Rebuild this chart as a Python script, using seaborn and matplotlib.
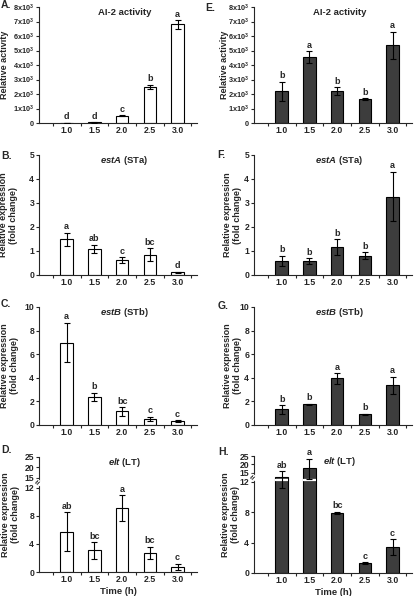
import numpy as np
import pandas as pd
import matplotlib
matplotlib.use('Agg')
import matplotlib.pyplot as plt
import seaborn as sns

# Time points (h)
times = ['1.0', '1.5', '2.0', '2.5', '3.0']

# Left column (open bars)
ai2_a = [15, 45, 500, 2500, 6800]
ai2_a_sd = [10, 15, 50, 150, 300]
ai2_a_let = ['d', 'd', 'c', 'b', 'a']
esta_b = [1.49, 1.10, 0.62, 0.85, 0.11]
esta_b_sd = [0.27, 0.17, 0.12, 0.27, 0.02]
esta_b_let = ['a', 'ab', 'c', 'bc', 'd']
estb_c = [6.98, 2.40, 1.15, 0.52, 0.34]
estb_c_sd = [1.68, 0.35, 0.35, 0.20, 0.08]
estb_c_let = ['a', 'b', 'bc', 'c', 'c']
elt_d = [5.75, 3.07, 9.06, 2.69, 0.71]
elt_d_sd = [2.75, 1.20, 1.85, 0.90, 0.47]
elt_d_let = ['ab', 'bc', 'a', 'bc', 'c']

# Right column (filled bars)
ai2_e = [2200, 4550, 2180, 1630, 5360]
ai2_e_sd = [650, 400, 280, 60, 950]
ai2_e_let = ['b', 'a', 'b', 'b', 'a']
esta_f = [0.58, 0.58, 1.17, 0.81, 3.27]
esta_f_sd = [0.22, 0.12, 0.32, 0.15, 1.03]
esta_f_let = ['b', 'b', 'b', 'b', 'a']
estb_g = [1.32, 1.74, 3.95, 0.90, 3.36]
estb_g_sd = [0.38, 0.05, 0.45, 0.06, 0.75]
estb_g_let = ['b', 'b', 'a', 'b', 'a']
elt_h = [13.6, 18.2, 7.95, 1.30, 3.42]
elt_h_sd = [2.4, 5.2, 0.15, 0.10, 1.05]
elt_h_let = ['ab', 'a', 'bc', 'c', 'c']

# y axis ticks
ai2_ticks = [0, 1000, 2000, 3000, 4000, 5000, 6000, 7000, 8000]
ai2_ticklabels = ['0'] + [r'%dx10$^{3}$' % k for k in range(1, 9)]
elt_ticks = [0, 4, 8, 12, 15, 20, 25]

sns.set_style('ticks')
plt.rcParams['font.family'] = ['Liberation Sans', 'DejaVu Sans']
plt.rcParams['font.weight'] = 'bold'
plt.rcParams['mathtext.fontset'] = 'custom'
plt.rcParams['mathtext.rm'] = 'Liberation Sans:bold'
plt.rcParams['mathtext.bf'] = 'Liberation Sans:bold'
plt.rcParams['mathtext.it'] = 'Liberation Sans:italic:bold'

W, H = 416, 596
fig = plt.figure(figsize=(W / 100, H / 100), dpi=100)
fig.patch.set_facecolor('white')


def add_axes(x0, x1, y0, y1):
    return fig.add_axes([x0 / W, 1 - y1 / H, (x1 - x0) / W, (y1 - y0) / H])


def broken_scale(y15, y25):
    # piecewise linear y axis: 0-12 linear, compressed 15-25
    up = (y25 - y15) / 10.0
    ys = np.array([-1000, 0, 12, 15, 25, 1000.0])
    fs = np.array([-1000, 0, 12, y15, y25, y25 + 975 * up])

    def fwd(v):
        return np.interp(v, ys, fs)

    def inv(v):
        return np.interp(v, fs, ys)
    return fwd, inv


def panel(ax, vals, sd, letters, color, ylim, yticks, yticklabels,
          title, ylabel, label_x, scale=None, xlabel=None, ytick_size=6.2):
    df = pd.DataFrame({'time': times, 'value': vals})
    sns.barplot(data=df, x='time', y='value', color=color, saturation=1,
                edgecolor='black', linewidth=0.8, width=0.45,
                errorbar=None, ax=ax)
    if scale is not None:
        ax.set_yscale('function', functions=scale)
    ax.errorbar(np.arange(len(times)), vals, yerr=sd, fmt='none',
                ecolor='black', elinewidth=0.8, capsize=2, capthick=0.8,
                zorder=3)
    for i, (v, s, l) in enumerate(zip(vals, sd, letters)):
        ax.annotate(l, xy=(i, v + s), xytext=(0, 1), textcoords='offset points',
                    ha='center', va='bottom', fontsize=6.5, fontweight='bold')
    ax.set_ylim(*ylim)
    ax.set_yticks(yticks, yticklabels)
    ax.set_xlim(-1.0, 4.7)
    ax.set_xticks(np.arange(-0.5, 5, 1), minor=True)
    ax.tick_params(axis='x', which='major', length=0, pad=2.5, labelsize=6.3)
    ax.tick_params(axis='x', which='minor', length=2, width=0.8)
    ax.tick_params(axis='y', which='major', length=2, width=0.8, pad=1.5,
                   labelsize=ytick_size)
    ax.tick_params(axis='y', which='minor', length=0)
    for lab in ax.get_xticklabels() + ax.get_yticklabels():
        lab.set_fontweight('bold')
    sns.despine(ax=ax)
    for sp in ['left', 'bottom']:
        ax.spines[sp].set_linewidth(0.8)
    ax.set_ylabel(ylabel, fontsize=6.5, fontweight='bold', linespacing=1.15)
    ax.yaxis.set_label_coords(label_x, 0.5)
    if xlabel:
        ax.set_xlabel(xlabel, fontsize=6.8, fontweight='bold', labelpad=1.5)
    else:
        ax.set_xlabel('')
    ax.text(0.54, 0.955, title, transform=ax.transAxes, ha='center',
            va='center', fontsize=6.8, fontweight='bold')


def add_break(ax, ygap):
    tr = ax.get_yaxis_transform()
    # white gap across bars that run past the break
    for p in ax.patches:
        if p.get_height() > 12:
            ax.plot([p.get_x(), p.get_x() + p.get_width()], [ygap, ygap],
                    color='white', lw=1.6, zorder=2.5, solid_capstyle='butt')
    ax.text(0, 13.5, '\u2248', transform=tr, ha='center', va='center',
            fontsize=6, rotation=50, color='black', zorder=5,
            bbox=dict(boxstyle='square,pad=0', fc='white', ec='none'))


open_c = 'white'
dark_c = '#3d3d3d'
ylab2 = 'Relative expression\n(fold change)'

ax = add_axes(39, 197, 7, 123)
panel(ax, ai2_a, ai2_a_sd, ai2_a_let, open_c, (0, 8000), ai2_ticks,
      ai2_ticklabels, 'AI-2 activity', 'Relative activity', (9 - 39) / 158,
      ytick_size=5.3)
ax = add_axes(39, 197, 155, 275)
panel(ax, esta_b, esta_b_sd, esta_b_let, open_c, (0, 5), range(6),
      [str(k) for k in range(6)], r'$\mathit{estA}$ (STa)', ylab2, (18 - 39) / 158)
ax = add_axes(39, 197, 307, 425)
panel(ax, estb_c, estb_c_sd, estb_c_let, open_c, (0, 10), range(0, 11, 2),
      [str(k) for k in range(0, 11, 2)], r'$\mathit{estB}$ (STb)', ylab2, (19 - 39) / 158)
ax = add_axes(39, 197, 457, 572)
panel(ax, elt_d, elt_d_sd, elt_d_let, open_c, (0, 25), elt_ticks,
      [str(k) for k in elt_ticks], r'$\mathit{elt}$ (LT)', ylab2, (20 - 39) / 158,
      scale=broken_scale(13.42, 16.36), xlabel='Time (h)')
add_break(ax, 12.5)

ax = add_axes(254, 412, 7, 123)
panel(ax, ai2_e, ai2_e_sd, ai2_e_let, dark_c, (0, 8000), ai2_ticks,
      ai2_ticklabels, 'AI-2 activity', 'Relative activity', (229 - 254) / 158,
      ytick_size=5.3)
ax = add_axes(254, 412, 155, 275)
panel(ax, esta_f, esta_f_sd, esta_f_let, dark_c, (0, 5), range(6),
      [str(k) for k in range(6)], r'$\mathit{estA}$ (STa)', ylab2, (242 - 254) / 158)
ax = add_axes(254, 412, 307, 425)
panel(ax, estb_g, estb_g_sd, estb_g_let, dark_c, (0, 10), range(0, 11, 2),
      [str(k) for k in range(0, 11, 2)], r'$\mathit{estB}$ (STb)', ylab2, (242 - 254) / 158)
ax = add_axes(254, 412, 456, 573)
panel(ax, elt_h, elt_h_sd, elt_h_let, dark_c, (0, 25), elt_ticks,
      [str(k) for k in elt_ticks], r'$\mathit{elt}$ (LT)', ylab2, (240 - 254) / 158,
      scale=broken_scale(13.18, 15.42), xlabel='Time (h)')
add_break(ax, 12.5)

# panel letters
for s, x, y in [('A.', 1, 5), ('B.', 1, 156), ('C.', 1, 304), ('D.', 1, 450),
                ('E.', 205, 8), ('F.', 217, 155), ('G.', 218, 306), ('H.', 218, 452)]:
    fig.text(x / W, 1 - y / H, s, fontsize=7.5, fontweight='bold',
             ha='left', va='center')

fig.savefig('out.png', dpi=100, facecolor='white')
